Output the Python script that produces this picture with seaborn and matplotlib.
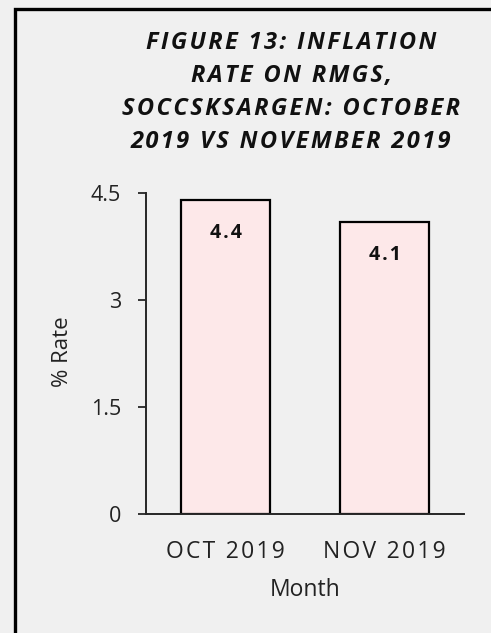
import matplotlib
matplotlib.use("Agg")
import matplotlib.pyplot as plt
import seaborn as sns
import pandas as pd
from matplotlib.patches import Rectangle

# data
months = ["OCT 2019", "NOV 2019"]
rates = [4.4, 4.1]
y_ticks = [0, 1.5, 3, 4.5]
y_tick_labels = ["0", "1.5", "3", "4.5"]
title_lines = ["FIGURE 13: INFLATION", "RATE ON RMGS,",
               "SOCCSKSARGEN: OCTOBER", "2019 VS NOVEMBER 2019"]

BG = "#f0f0f0"
BAR = "#fde8e9"
FONT = "Open Sans"
HAIR = "\u200a"


def spaced(s):
    # the reference text looks stretched sideways; fake it with hair spaces
    return HAIR.join(s)


sns.set_style("ticks", rc={"axes.facecolor": BG, "figure.facecolor": BG})
plt.rcParams["font.family"] = [FONT, "DejaVu Sans"]

W, H = 491, 633
fig = plt.figure(figsize=(W / 100, H / 100), dpi=100)
ax = fig.add_axes([146 / W, 1 - 514 / H, (464 - 146) / W, (514 - 193) / H])

df = pd.DataFrame({"Month": months, "Rate": rates})
sns.barplot(data=df, x="Month", y="Rate", color=BAR, edgecolor="black",
            linewidth=1.6, width=0.56, saturation=1, ax=ax)

ax.set_xlim(-0.5, 1.5)
ax.set_ylim(0, 4.5)
ax.set_yticks(y_ticks)
ax.set_yticklabels(y_tick_labels, fontsize=15.5, color="#222222")
ax.set_xticks(range(len(months)))
ax.set_xticklabels([spaced(m) for m in months])
ax.tick_params(axis="y", length=6, width=1.3, pad=12)
ax.tick_params(axis="x", length=0, pad=19, labelsize=16.5, labelcolor="#222222")
for s in ["top", "right"]:
    ax.spines[s].set_visible(False)
for s in ["left", "bottom"]:
    ax.spines[s].set_linewidth(1.4)
ax.set_xlabel("Month", fontsize=16.5, color="#222222", labelpad=10)
ax.set_ylabel("% Rate", fontsize=16, color="#222222")
ax.yaxis.set_label_coords(-0.228, 0.505)

for p, v in zip(ax.patches, rates):
    ax.annotate(spaced(f"{v:.1f}"), (p.get_x() + p.get_width() / 2, p.get_height()),
                xytext=(0, -24), textcoords="offset points", ha="center",
                va="center", fontsize=14, fontweight="bold", color="#111111")

fig.text(291 / W, 1 - 92.5 / H, "\n".join(spaced(t) for t in title_lines),
         ha="center", va="center", fontsize=17, fontweight="bold",
         fontstyle="italic", color="#111111", linespacing=1.49)

# outer frame, cut off at right and bottom like the reference
fig.add_artist(Rectangle((14.5 / W, -0.1), 1.2, 1.1 - 9.5 / H,
                         transform=fig.transFigure, fill=False,
                         edgecolor="black", linewidth=2.4))

fig.savefig("out.png", dpi=100, facecolor=BG)
